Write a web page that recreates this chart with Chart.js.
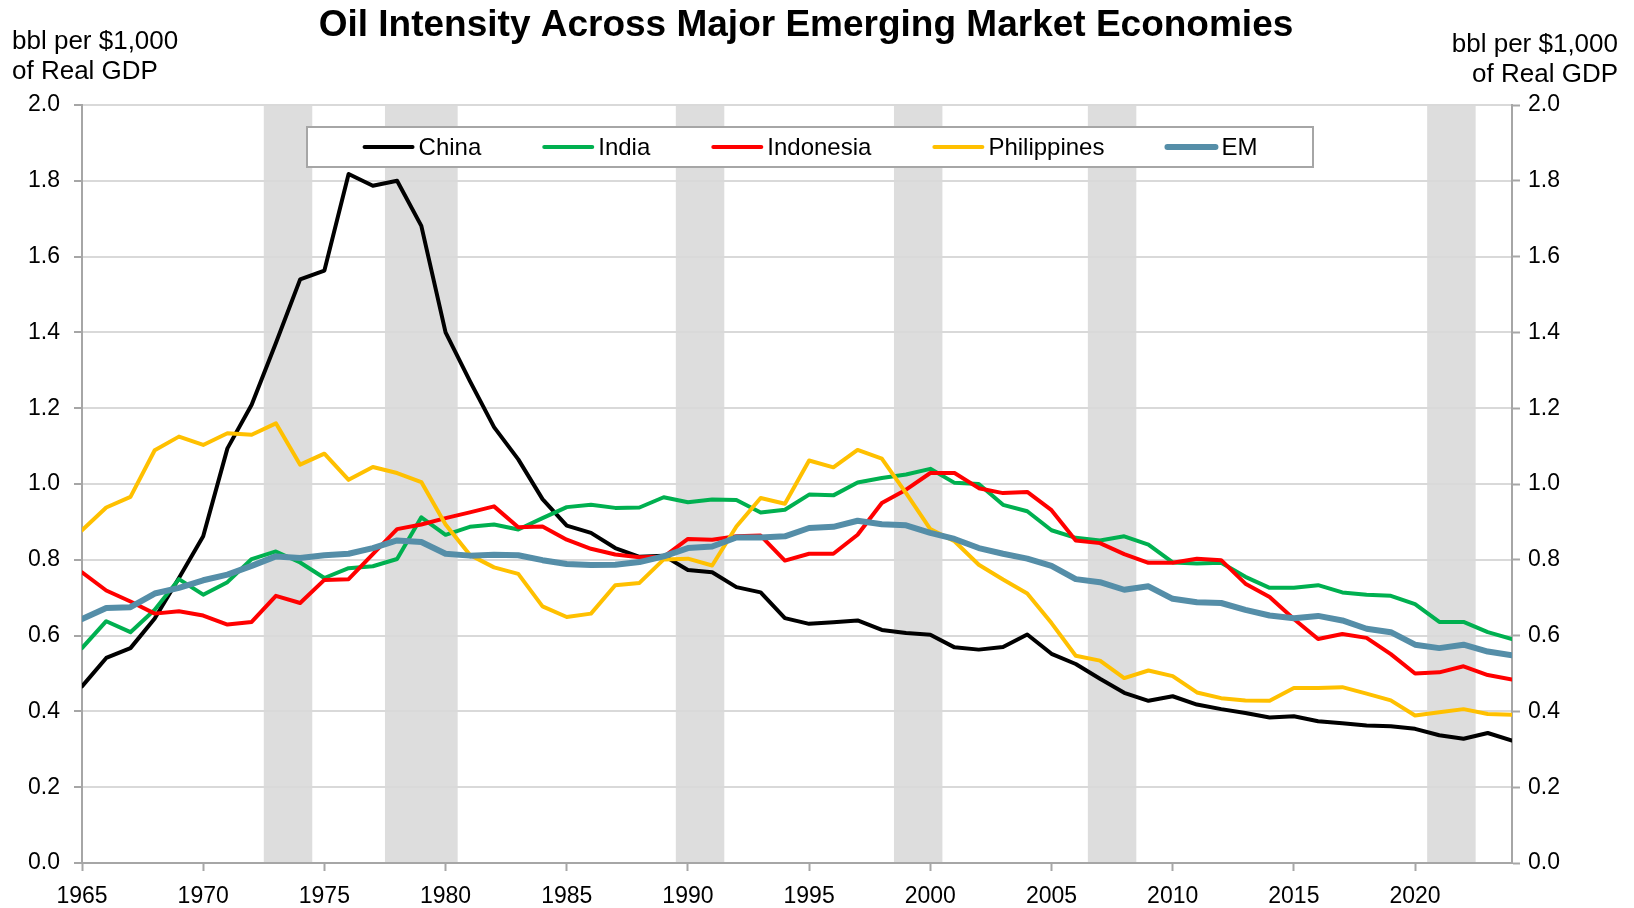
<!DOCTYPE html>
<html>
<head>
<meta charset="utf-8">
<script src="https://cdn.jsdelivr.net/npm/chart.js@4.4.1/dist/chart.umd.min.js"></script>
<style>
  html, body { margin: 0; padding: 0; background: #fff; }
  canvas { display: block; }
</style>
</head>
<body>
<canvas id="chart" width="1634" height="908"></canvas>
<script>
// oil intensity, bbl per $1,000 of real GDP
const years = [
  1965, 1966, 1967, 1968, 1969, 1970, 1971, 1972, 1973, 1974,
  1975, 1976, 1977, 1978, 1979, 1980, 1981, 1982, 1983, 1984,
  1985, 1986, 1987, 1988, 1989, 1990, 1991, 1992, 1993, 1994,
  1995, 1996, 1997, 1998, 1999, 2000, 2001, 2002, 2003, 2004,
  2005, 2006, 2007, 2008, 2009, 2010, 2011, 2012, 2013, 2014,
  2015, 2016, 2017, 2018, 2019, 2020, 2021, 2022, 2023, 2024
];
const china = [
  0.466, 0.541, 0.567, 0.645, 0.752, 0.862, 1.094, 1.209, 1.372, 1.540,
  1.563, 1.818, 1.787, 1.800, 1.681, 1.400, 1.272, 1.150, 1.065, 0.960,
  0.890, 0.871, 0.831, 0.808, 0.811, 0.773, 0.767, 0.728, 0.714, 0.646,
  0.631, 0.635, 0.640, 0.615, 0.607, 0.602, 0.569, 0.563, 0.570, 0.603,
  0.552, 0.525, 0.486, 0.449, 0.428, 0.440, 0.418, 0.406, 0.396, 0.384,
  0.387, 0.374, 0.369, 0.363, 0.361, 0.354, 0.337, 0.328, 0.343, 0.323
];
const india = [
  0.567, 0.638, 0.609, 0.668, 0.749, 0.708, 0.741, 0.802, 0.822, 0.793,
  0.752, 0.778, 0.783, 0.802, 0.912, 0.866, 0.887, 0.893, 0.880, 0.910,
  0.939, 0.945, 0.937, 0.938, 0.965, 0.952, 0.959, 0.958, 0.925, 0.932,
  0.972, 0.970, 1.004, 1.016, 1.025, 1.040, 1.003, 1.000, 0.945, 0.928,
  0.878, 0.858, 0.851, 0.862, 0.840, 0.793, 0.790, 0.792, 0.755, 0.726,
  0.726, 0.733, 0.714, 0.708, 0.705, 0.683, 0.636, 0.636, 0.609, 0.591
];
const indonesia = [
  0.767, 0.719, 0.690, 0.658, 0.664, 0.653, 0.629, 0.636, 0.705, 0.686,
  0.747, 0.749, 0.815, 0.881, 0.893, 0.910, 0.925, 0.941, 0.886, 0.888,
  0.853, 0.829, 0.814, 0.807, 0.808, 0.855, 0.853, 0.862, 0.864, 0.798,
  0.816, 0.816, 0.866, 0.950, 0.985, 1.029, 1.029, 0.989, 0.976, 0.979,
  0.931, 0.851, 0.844, 0.815, 0.792, 0.792, 0.803, 0.799, 0.737, 0.702,
  0.644, 0.591, 0.604, 0.594, 0.551, 0.500, 0.503, 0.519, 0.496, 0.484
];
const philippines = [
  0.878, 0.938, 0.966, 1.089, 1.125, 1.103, 1.134, 1.130, 1.160, 1.051,
  1.080, 1.011, 1.045, 1.029, 1.005, 0.893, 0.813, 0.780, 0.763, 0.677,
  0.649, 0.658, 0.733, 0.739, 0.801, 0.803, 0.785, 0.888, 0.963, 0.948,
  1.062, 1.044, 1.090, 1.067, 0.976, 0.881, 0.849, 0.787, 0.748, 0.711,
  0.633, 0.547, 0.534, 0.488, 0.508, 0.493, 0.450, 0.435, 0.429, 0.428,
  0.462, 0.462, 0.464, 0.447, 0.429, 0.389, 0.398, 0.406, 0.393, 0.391
];
const em = [
  0.644, 0.673, 0.675, 0.711, 0.726, 0.746, 0.761, 0.784, 0.809, 0.805,
  0.812, 0.816, 0.831, 0.851, 0.847, 0.816, 0.811, 0.813, 0.812, 0.799,
  0.789, 0.786, 0.787, 0.794, 0.809, 0.831, 0.835, 0.859, 0.859, 0.862,
  0.884, 0.887, 0.903, 0.894, 0.891, 0.871, 0.855, 0.831, 0.816, 0.803,
  0.784, 0.749, 0.741, 0.721, 0.730, 0.697, 0.688, 0.686, 0.668, 0.653,
  0.646, 0.652, 0.640, 0.618, 0.609, 0.576, 0.567, 0.576, 0.558, 0.548
];
// shaded periods (first and last year of each)
const shadedPeriods = [[1973, 1974], [1978, 1980], [1990, 1991], [1999, 2000], [2007, 2008], [2021, 2022]];

const FONT = '"Liberation Sans", Arial, sans-serif';

function toPoints(vals) {
  return years.map((y, i) => ({ x: y, y: vals[i] }));
}

function line(label, vals, color, width, order) {
  return {
    label: label,
    data: toPoints(vals),
    borderColor: color,
    backgroundColor: color,
    borderWidth: width,
    pointRadius: 0,
    tension: 0,
    borderJoinStyle: 'round',
    borderCapStyle: 'round',
    order: order
  };
}

// grey bars behind everything
const shadePlugin = {
  id: 'shade',
  beforeDraw(chart) {
    const { ctx, chartArea, scales } = chart;
    ctx.save();
    ctx.fillStyle = '#dddddd';
    shadedPeriods.forEach(p => {
      const x1 = scales.x.getPixelForValue(p[0] - 0.5);
      const x2 = scales.x.getPixelForValue(p[1] + 0.5);
      ctx.fillRect(x1, chartArea.top, x2 - x1, chartArea.bottom - chartArea.top);
    });
    ctx.restore();
  }
};

// title, axis titles and the boxed legend
const textPlugin = {
  id: 'texts',
  afterDraw(chart) {
    const ctx = chart.ctx;
    ctx.save();
    ctx.fillStyle = '#000';
    ctx.textBaseline = 'middle';

    ctx.font = 'bold 37px ' + FONT;
    ctx.textAlign = 'center';
    ctx.fillText('Oil Intensity Across Major Emerging Market Economies', 806, 26);

    ctx.font = '26px ' + FONT;
    ctx.textAlign = 'left';
    ctx.fillText('bbl per $1,000', 12, 42);
    ctx.fillText('of Real GDP', 12, 72);
    ctx.textAlign = 'right';
    ctx.fillText('bbl per $1,000', 1618, 45);
    ctx.fillText('of Real GDP', 1618, 75);

    // legend box
    const box = { left: 307, top: 127, right: 1313, bottom: 167 };
    ctx.fillStyle = '#fff';
    ctx.fillRect(box.left, box.top, box.right - box.left, box.bottom - box.top);
    ctx.strokeStyle = '#a6a6a6';
    ctx.lineWidth = 2;
    ctx.strokeRect(box.left, box.top, box.right - box.left, box.bottom - box.top);

    ctx.font = '24px ' + FONT;
    const sets = chart.data.datasets;
    const lineLen = 52, gap = 4, spacing = 61;
    let total = 0;
    sets.forEach((ds, i) => {
      total += lineLen + gap + ctx.measureText(ds.label).width;
      if (i < sets.length - 1) total += spacing;
    });
    let x = (box.left + box.right) / 2 - total / 2;
    const cy = (box.top + box.bottom) / 2;
    sets.forEach(ds => {
      ctx.strokeStyle = ds.borderColor;
      ctx.lineWidth = ds.borderWidth;
      ctx.lineCap = 'round';
      ctx.beginPath();
      ctx.moveTo(x + 2, cy);
      ctx.lineTo(x + lineLen - 2, cy);
      ctx.stroke();
      x += lineLen + gap;
      ctx.fillStyle = '#000';
      ctx.textAlign = 'left';
      ctx.fillText(ds.label, x, cy + 1);
      x += ctx.measureText(ds.label).width + spacing;
    });
    ctx.restore();
  }
};

const tickFont = { family: FONT, size: 23 };

new Chart(document.getElementById('chart'), {
  type: 'line',
  data: {
    datasets: [
      line('China', china, '#000000', 4, 5),
      line('India', india, '#00b050', 4, 4),
      line('Indonesia', indonesia, '#ff0000', 4, 3),
      line('Philippines', philippines, '#ffc000', 4, 2),
      line('EM', em, '#558ea8', 6, 1)
    ]
  },
  options: {
    responsive: false,
    animation: false,
    layout: { padding: { top: 105, left: 0, right: 0, bottom: 0 } },
    plugins: {
      legend: { display: false },
      title: { display: false },
      tooltip: { enabled: false }
    },
    scales: {
      x: {
        type: 'linear',
        min: 1965,
        max: 2024,
        afterFit(scale) { scale.height = 45; },
        border: { color: '#a6a6a6', width: 2 },
        grid: { drawOnChartArea: false, drawTicks: true, tickLength: 8, tickColor: '#a6a6a6', tickWidth: 2 },
        ticks: {
          stepSize: 5,
          includeBounds: false,
          color: '#000',
          font: tickFont,
          padding: 12,
          maxRotation: 0,
          callback: v => String(v)
        }
      },
      y: {
        position: 'left',
        min: 0,
        max: 2,
        afterFit(scale) { scale.width = 82; },
        border: { color: '#a6a6a6', width: 2 },
        grid: { color: '#d9d9d9', lineWidth: 2, tickLength: 8, tickColor: '#a6a6a6', tickWidth: 2 },
        ticks: { stepSize: 0.2, color: '#000', font: tickFont, padding: 14, callback: v => v.toFixed(1) }
      },
      y2: {
        position: 'right',
        min: 0,
        max: 2,
        afterFit(scale) { scale.width = 122; },
        border: { color: '#a6a6a6', width: 2 },
        grid: { drawOnChartArea: false, tickLength: 8, tickColor: '#a6a6a6', tickWidth: 2 },
        ticks: { stepSize: 0.2, color: '#000', font: tickFont, padding: 8, callback: v => v.toFixed(1) }
      }
    }
  },
  plugins: [shadePlugin, textPlugin]
});
</script>
</body>
</html>
